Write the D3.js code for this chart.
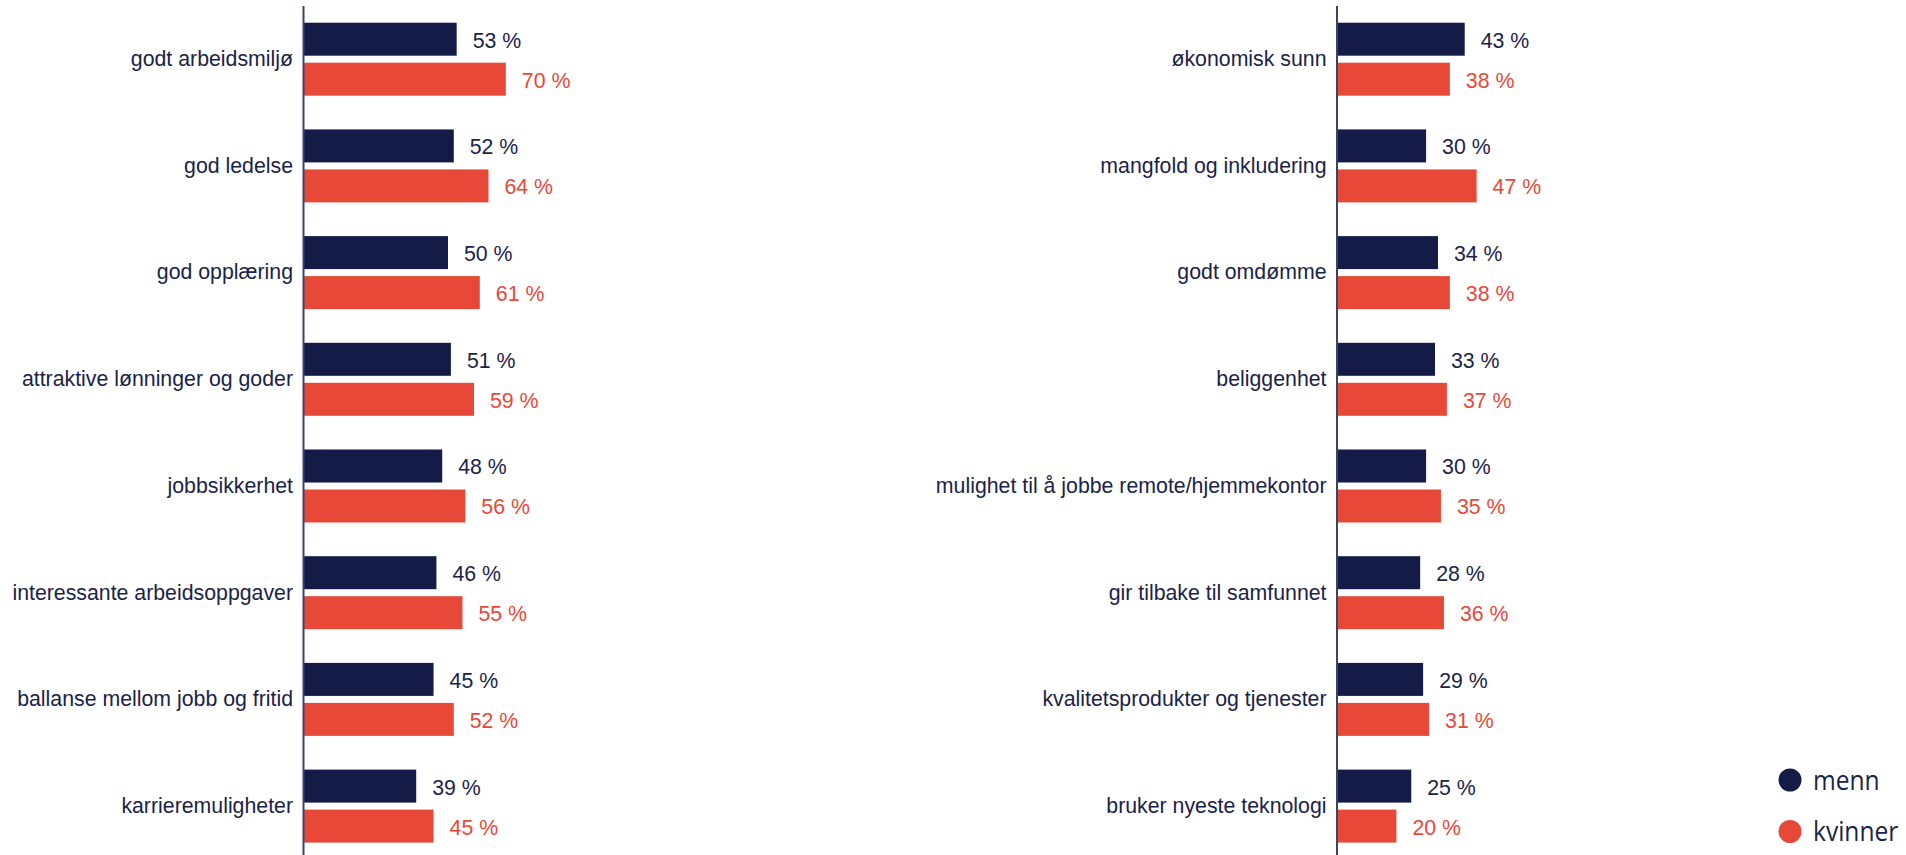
<!DOCTYPE html>
<html>
<head>
<meta charset="utf-8">
<script src="https://cdn.jsdelivr.net/npm/d3@7/dist/d3.min.js"></script>
<style>
  html, body { margin: 0; padding: 0; background: #ffffff; }
  svg { display: block; }
</style>
</head>
<body>
<script>
// Two panels of paired horizontal bars: men vs. women, share in percent
const leftCategories = [
  "godt arbeidsmiljø",
  "god ledelse",
  "god opplæring",
  "attraktive lønninger og goder",
  "jobbsikkerhet",
  "interessante arbeidsoppgaver",
  "ballanse mellom jobb og fritid",
  "karrieremuligheter"
];
const leftMenn    = [53, 52, 50, 51, 48, 46, 45, 39];
const leftKvinner = [70, 64, 61, 59, 56, 55, 52, 45];

const rightCategories = [
  "økonomisk sunn",
  "mangfold og inkludering",
  "godt omdømme",
  "beliggenhet",
  "mulighet til å jobbe remote/hjemmekontor",
  "gir tilbake til samfunnet",
  "kvalitetsprodukter og tjenester",
  "bruker nyeste teknologi"
];
const rightMenn    = [43, 30, 34, 33, 30, 28, 29, 25];
const rightKvinner = [38, 47, 38, 37, 35, 36, 31, 20];

const seriesKeys  = ["menn", "kvinner"];
const seriesNames = ["menn", "kvinner"];

const W = 1906, H = 855;
const colors = { menn: "#131b46", kvinner: "#e84838" };
const textColor = "#1b2348";
const labelFont = "'Liberation Sans', Arial, sans-serif";
const labelSize = 21.3;

const svg = d3.select("body").append("svg")
  .attr("width", W).attr("height", H);

function panel(categories, menn, kvinner, axisX, pxPerPct) {
  const rows = categories.map((c, i) => ({ cat: c, menn: menn[i], kvinner: kvinner[i] }));

  const y = d3.scaleBand()
    .domain(categories)
    .range([5.85, 859.45])
    .paddingInner(0.316)
    .paddingOuter(0.158);

  const ySub = d3.scaleBand()
    .domain(seriesKeys)
    .range([0, y.bandwidth()])
    .paddingInner(0.175);

  const x = d3.scaleLinear()
    .domain([0, 100])
    .range([axisX, axisX + pxPerPct * 100]);

  const g = svg.append("g");

  const groups = g.selectAll("g.row").data(rows).join("g")
    .attr("class", "row")
    .attr("transform", d => `translate(0,${y(d.cat)})`);

  groups.selectAll("rect").data(d => seriesKeys.map(k => ({ key: k, value: d[k] })))
    .join("rect")
    .attr("x", x(0))
    .attr("y", d => ySub(d.key))
    .attr("width", d => x(d.value) - x(0))
    .attr("height", ySub.bandwidth())
    .attr("fill", d => colors[d.key]);

  groups.selectAll("text.val").data(d => seriesKeys.map(k => ({ key: k, value: d[k] })))
    .join("text")
    .attr("class", "val")
    .attr("x", d => x(d.value) + 16)
    .attr("y", d => ySub(d.key) + ySub.bandwidth() / 2 + 1)
    .attr("dy", "0.35em")
    .attr("font-family", labelFont)
    .attr("font-size", labelSize)
    .attr("fill", d => d.key === "kvinner" ? colors.kvinner : textColor)
    .text(d => `${d.value} %`);

  // category labels, right-aligned against the axis
  const yAxis = d3.axisLeft(y).tickSize(0).tickPadding(10.5);
  const ax = g.append("g")
    .attr("transform", `translate(${axisX},0)`)
    .call(yAxis);
  ax.select(".domain").remove();
  ax.selectAll("text")
    .attr("font-family", labelFont)
    .attr("font-size", labelSize)
    .attr("fill", textColor);

  g.append("line")
    .attr("x1", axisX).attr("x2", axisX)
    .attr("y1", 6).attr("y2", H)
    .attr("stroke", "#3b4466")
    .attr("stroke-width", 2);
}

panel(leftCategories, leftMenn, leftKvinner, 303.5, 2.89);
panel(rightCategories, rightMenn, rightKvinner, 1337, 2.97);

// legend
const legend = svg.append("g");
const ly = d3.scalePoint().domain(seriesKeys).range([780, 831.5]);
const items = legend.selectAll("g").data(seriesKeys).join("g")
  .attr("transform", d => `translate(1790,${ly(d)})`);
items.append("circle").attr("r", 11.5).attr("fill", d => colors[d]);
items.append("text")
  .attr("transform", "translate(23,0) scale(0.91,1)")
  .attr("dy", "0.36em")
  .attr("font-family", "'Open Sans', sans-serif")
  .attr("font-size", 27)
  .attr("font-weight", 500)
  .attr("fill", textColor)
  .text((d, i) => seriesNames[i]);
</script>
</body>
</html>
